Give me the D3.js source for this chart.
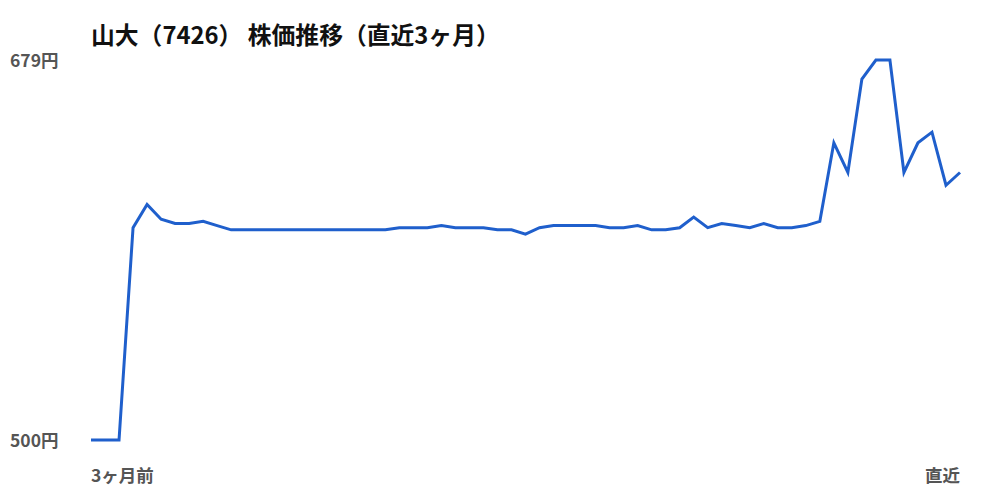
<!DOCTYPE html>
<html><head><meta charset="utf-8">
<script src="https://cdn.jsdelivr.net/npm/d3@7"></script>
<style>
body{margin:0;background:#fff;}
text{font-family:"Noto Sans CJK JP","Noto Sans",sans-serif;}
</style></head>
<body><svg id="c" width="1000" height="500"></svg>
<script>
const title = "山大（7426） 株価推移（直近3ヶ月）";
const prices = [500,500,500,600,611,604,602,602,603,601,599,599,599,599,599,599,599,599,599,599,599,599,
600,600,600,601,600,600,600,599,599,597,600,601,601,601,601,600,600,601,599,599,600,605,600,602,601,600,602,600,600,601,603,
640,626,670,679,679,626,640,645,620,626];
const yTicks = [500,679];
const xLabels = ["3ヶ月前","直近"];

const svg = d3.select("#c");
const x = d3.scaleLinear().domain([0, prices.length-1]).range([91,960]);
const y = d3.scaleLinear().domain([500,679]).range([440,60]);

svg.append("text").attr("x",91).attr("y",44).attr("font-size",23.8).attr("font-weight","bold").attr("fill","#111").text(title);

svg.selectAll(".yl").data(yTicks).enter().append("text")
  .attr("x",10).attr("y",d=>y(d)+7).attr("font-size",17.5).attr("font-weight","bold").attr("fill","#555")
  .text(d=>d+"円");

svg.append("text").attr("x",91).attr("y",482).attr("font-size",17.5).attr("font-weight","bold").attr("fill","#555").text(xLabels[0]);
svg.append("text").attr("x",960).attr("y",482).attr("text-anchor","end").attr("font-size",17.5).attr("font-weight","bold").attr("fill","#555").text(xLabels[1]);

svg.append("path").datum(prices)
  .attr("d", d3.line().x((d,i)=>x(i)).y(d=>y(d)))
  .attr("fill","none").attr("stroke","#1f5fcc").attr("stroke-width",3).attr("stroke-linejoin","miter");
</script></body></html>
